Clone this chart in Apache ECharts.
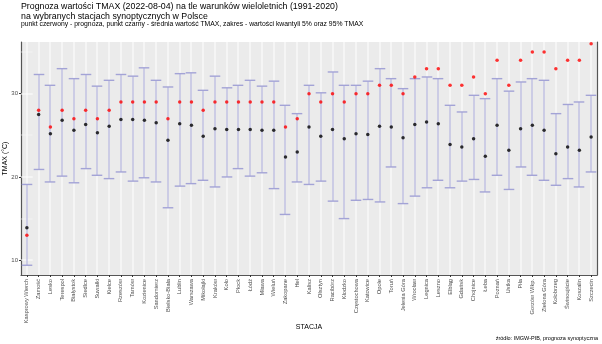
<!DOCTYPE html>
<html><head><meta charset="utf-8">
<script src="https://cdn.jsdelivr.net/npm/echarts@6/dist/echarts.min.js"></script>
<style>html,body{margin:0;padding:0;background:#fff}#c{width:602px;height:344px}</style>
</head><body><div id="c"></div>
<script>
var stations = ["Kasprowy Wierch","Zamość","Lesko","Terespol","Białystok","Siedlce","Suwałki","Kielce","Rzeszów","Tarnów","Kozienice","Sandomierz","Bielsko-Biała","Lublin","Warszawa","Mikołajki","Kraków","Koło","Płock","Łódź","Mława","Wieluń","Zakopane","Hel","Kalisz","Olsztyn","Racibórz","Kłodzko","Częstochowa","Katowice","Opole","Toruń","Jelenia Góra","Wrocław","Legnica","Leszno","Elbląg","Gdańsk","Chojnice","Łeba","Poznań","Ustka","Piła","Gorzów Wlkp.","Zielona Góra","Kołobrzeg","Świnoujście","Koszalin","Szczecin"];
var forecast = [13,28,26,28,27,28,27,28,29,29,29,29,27,29,29,28,29,29,29,29,29,29,26,27,30,29,30,29,30,30,31,31,30,32,33,33,31,31,32,30,34,31,34,35,35,33,34,34,36];
var meanTmax = [13.9,27.5,25.2,26.8,25.6,26.3,25.3,26.1,26.9,26.9,26.8,26.5,24.4,26.4,26.2,24.9,25.8,25.7,25.7,25.7,25.6,25.6,22.4,23.0,26.0,24.9,25.7,24.6,25.2,25.1,26.1,26.0,24.7,26.3,26.6,26.4,23.9,23.6,24.6,22.5,26.2,23.2,25.8,26.2,25.6,22.8,23.6,23.2,24.8];
var q05 = [9.4,20.9,19.4,20.1,19.3,21.0,20.2,19.8,20.6,19.5,19.9,19.4,16.3,18.9,19.2,19.6,18.8,20.0,21.0,20.1,20.5,18.6,15.5,19.4,19.1,19.5,17.1,15.0,17.2,17.3,17.0,21.2,16.8,17.7,18.7,19.6,18.7,19.5,19.7,18.2,20.2,18.5,21.2,20.2,19.6,19.0,19.8,18.8,20.6];
var q95 = [19.1,32.3,31.0,33.0,31.8,32.3,30.9,31.6,32.3,32.1,33.1,31.6,30.8,32.4,32.5,30.4,32.1,30.7,31.0,31.6,30.9,31.5,28.6,27.6,31.0,30.1,32.6,31.0,31.0,31.5,33.0,31.8,30.6,31.8,32.0,31.8,28.6,27.8,29.8,29.4,31.8,30.3,31.4,31.8,31.6,27.6,28.7,29.0,29.8];
var yLabels = [10,20,30];
var yMinor = [15,25,35];

var chart = echarts.init(document.getElementById('c'), null, {renderer:'canvas'});
var FONT = 'Liberation Sans, Arial, sans-serif';
var rangeData = stations.map(function(s,i){return [i,q05[i],q95[i]];});
var BAR = '#A3A3D6';
var YMIN = 8.23, YMAX = 36.2;

chart.setOption({
  animation:false,
  backgroundColor:'#ffffff',
  title:[
    {text:'Prognoza wartości TMAX (2022-08-04) na tle warunków wieloletnich (1991-2020)\nna wybranych stacjach synoptycznych w Polsce',
     left:21, top:2, padding:0, textStyle:{fontFamily:FONT,fontSize:8.8,fontWeight:'normal',color:'#000',lineHeight:9.5}},
    {text:'punkt czerwony - prognoza, punkt czarny - średnia wartość TMAX, zakres - wartości kwantyli 5% oraz 95% TMAX',
     left:21, top:21, padding:0, textStyle:{fontFamily:FONT,fontSize:6.8,fontWeight:'normal',color:'#000'}},
    {text:'źródło: IMGW-PIB, prognoza synoptyczna', right:4, top:335, padding:0,
     textStyle:{fontFamily:FONT,fontSize:5.5,fontWeight:'normal',color:'#000'}}
  ],
  grid:{left:21,right:5,top:42,bottom:69,show:true,backgroundColor:'#EBEBEB',borderWidth:0,
        containLabel:false,outerBoundsMode:'none'},
  xAxis:{type:'category',data:stations,boundaryGap:true,
    name:'STACJA',nameLocation:'middle',nameGap:49,nameMoveOverlap:false,
    nameTextStyle:{fontFamily:FONT,fontSize:7,color:'#000'},
    axisLine:{show:true,lineStyle:{color:'#555',width:1.2}},
    axisTick:{show:true,alignWithLabel:true,length:2,lineStyle:{color:'#333'}},
    axisLabel:{interval:0,rotate:90,fontFamily:FONT,fontSize:5.7,color:'#4D4D4D',margin:4},
    splitLine:{show:false}},
  yAxis:[{type:'value',min:YMIN,max:YMAX,
    name:'TMAX (°C)',nameLocation:'middle',nameGap:12,nameMoveOverlap:false,
    nameTextStyle:{fontFamily:FONT,fontSize:7,color:'#000'},
    axisLine:{show:true,lineStyle:{color:'#555',width:1.2}},
    axisTick:{show:true,length:2,customValues:yLabels,lineStyle:{color:'#333'}},
    axisLabel:{customValues:yLabels,fontFamily:FONT,fontSize:6,color:'#4D4D4D',margin:3},
    splitLine:{show:false}},
   {type:'value',position:'right',min:YMIN,max:YMAX,
    axisLine:{show:true,lineStyle:{color:'#555',width:1.2}},
    axisTick:{show:false},axisLabel:{show:false},splitLine:{show:false}}],
  series:[
    {type:'custom',z:2,silent:true,clip:false,data:stations.map(function(s,i){return [i,YMIN,YMAX];}),encode:{x:0,y:[1,2]},
     renderItem:function(params,api){
       var top=api.coord([api.value(0),YMAX]);
       var bot=api.coord([api.value(0),YMIN]);
       var x=Math.round(top[0]);
       var kids=[{type:'rect',shape:{x:x-0.5,y:top[1],width:1,height:bot[1]-top[1]},style:{fill:'#ffffff'}}];
       if(params.dataIndex===0){
         var left=api.coord([0,YMIN])[0]-api.size([1,0])[0]/2;
         var wid=api.size([stations.length,0])[0];
         yLabels.forEach(function(v){
           var y=Math.round(api.coord([0,v])[1]);
           kids.push({type:'rect',shape:{x:left,y:y-0.5,width:wid,height:1},style:{fill:'#ffffff'}});
         });
         yMinor.forEach(function(v){
           var y=Math.round(api.coord([0,v])[1]);
           kids.push({type:'rect',shape:{x:left,y:y-0.3,width:wid,height:0.6},style:{fill:'#F7F7F7'}});
         });
       }
       return {type:'group',children:kids};
     }},
    {type:'custom',z:3,data:rangeData,encode:{x:0,y:[1,2]},
     renderItem:function(params,api){
       var x=api.value(0);
       var lo=api.coord([x,api.value(1)]);
       var hi=api.coord([x,api.value(2)]);
       var w=api.size([1,0])[0]*0.9/2;
       var cx=Math.round(lo[0]);
       return {type:'group',children:[
         {type:'rect',shape:{x:cx-0.5,y:hi[1],width:1,height:lo[1]-hi[1]},style:{fill:BAR}},
         {type:'rect',shape:{x:cx-w,y:lo[1]-0.7,width:2*w,height:1.4},style:{fill:BAR}},
         {type:'rect',shape:{x:cx-w,y:hi[1]-0.7,width:2*w,height:1.4},style:{fill:BAR}}
       ]};
     }},
    {type:'scatter',z:4,data:meanTmax,symbol:'circle',symbolSize:3.5,itemStyle:{color:'#000000'}},
    {type:'scatter',z:5,data:forecast,symbol:'circle',symbolSize:3.5,itemStyle:{color:'#FF0000'}}
  ]
});
</script></body></html>
